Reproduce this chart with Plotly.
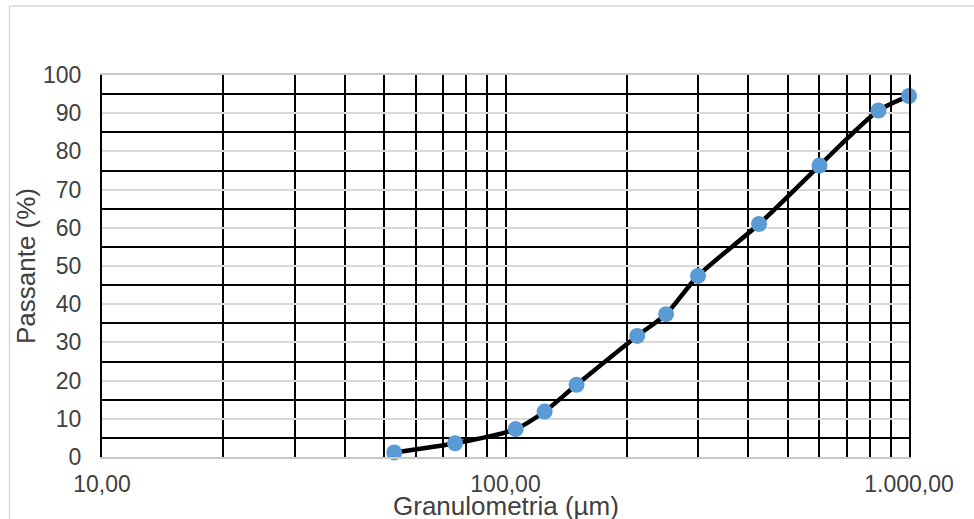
import plotly.graph_objects as go

# Particle size distribution (sieve analysis)
diametro_um = [53, 75, 106, 125, 150, 212, 250, 300, 425, 600, 840, 1000]
passante_pct = [1.2, 3.6, 7.3, 11.9, 18.9, 31.7, 37.4, 47.4, 61.0, 76.3, 90.7, 94.5]

x_ticks = [10, 100, 1000]
x_ticktext = ["10,00", "100,00", "1.000,00"]
x_minor = [20, 30, 40, 50, 60, 70, 80, 90, 200, 300, 400, 500, 600, 700, 800, 900]

W, H = 974, 519
L, R, T, B = 102, 65, 75, 62
pw, ph = W - L - R, H - T - B

FONT = "Liberation Sans, Arial, sans-serif"
TXT = "#404040"

fig = go.Figure()
fig.add_trace(go.Scatter(
    x=diametro_um, y=passante_pct,
    mode="lines+markers",
    line=dict(color="black", width=4.5, shape="spline", smoothing=0.8),
    marker=dict(color="#5B9BD5", size=16, line=dict(width=0)),
    showlegend=False, cliponaxis=False,
))

fig.update_xaxes(
    type="log", range=[1, 3], automargin=False,
    tickvals=x_ticks, ticktext=x_ticktext,
    showgrid=True, gridcolor="black", gridwidth=2,
    minor=dict(tickvals=x_minor, showgrid=True, gridcolor="black", gridwidth=2),
    ticks="outside", ticklen=6, tickcolor="rgba(0,0,0,0)",
    showline=True, mirror=True, linecolor="#C8C8C8", linewidth=1.5,
    zeroline=False,
    tickfont=dict(family=FONT, size=23, color=TXT),
)
fig.update_yaxes(
    range=[0, 100], dtick=10, tick0=0, automargin=False,
    showgrid=True, gridcolor="#D9D9D9", gridwidth=1.5,
    minor=dict(dtick=5, tick0=0, showgrid=True, gridcolor="black", gridwidth=2),
    ticks="outside", ticklen=14, tickcolor="rgba(0,0,0,0)",
    showline=True, mirror=True, linecolor="black", linewidth=2,
    zeroline=False,
    tickfont=dict(family=FONT, size=23, color=TXT),
    title=dict(text="Passante (%)", font=dict(family=FONT, size=26, color=TXT), standoff=0),
)

# x-axis title, set just below the tick labels
fig.add_annotation(
    text="Granulometria (µm)", xref="paper", yref="paper",
    x=0.5, y=(H - B - 506) / ph, xanchor="center", yanchor="middle",
    showarrow=False, font=dict(family=FONT, size=26, color=TXT),
    borderpad=0,
)

# outer chart frame
fig.add_shape(
    type="rect", xref="paper", yref="paper",
    x0=(9.5 - L) / pw, x1=(W + 10 - L) / pw,
    y0=(H - B - (H + 10)) / ph, y1=(H - B - 6) / ph,
    line=dict(color="#D9D9D9", width=1.5), fillcolor="rgba(0,0,0,0)", layer="below",
)

fig.update_layout(
    width=W, height=H,
    margin=dict(l=L, r=R, t=T, b=B, autoexpand=False),
    paper_bgcolor="white", plot_bgcolor="white",
)

fig.write_html("out.html")
